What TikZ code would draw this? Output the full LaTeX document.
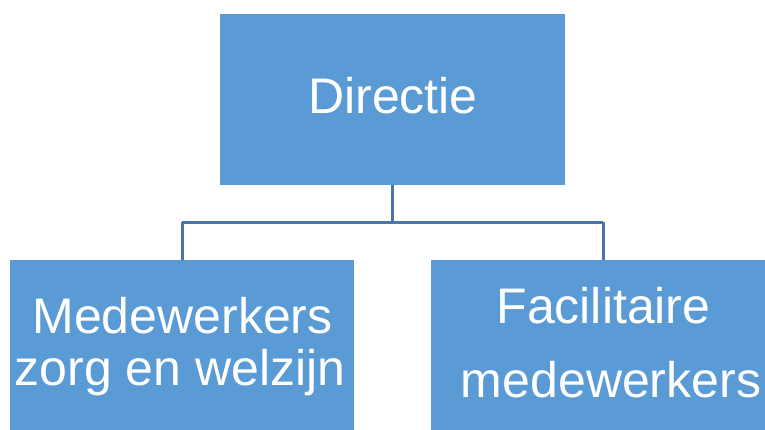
\documentclass[tikz,border=0pt]{standalone}
\usepackage{fontspec}
\setmainfont{Liberation Sans}
\definecolor{boxblue}{HTML}{5B9BD5}
\definecolor{lineblue}{HTML}{4677AA}
\begin{document}
\begin{tikzpicture}[x=1pt,y=-1pt,
  orgbox/.style={fill=boxblue, draw=none, inner sep=0pt, minimum width=#1},
  lbl/.style={text=white, font=\fontsize{50}{56}\selectfont, inner sep=0pt, anchor=base},
  conn/.style={draw=lineblue, line width=3pt}]
\useasboundingbox (0,0) rectangle (765,429);
\clip (0,0) rectangle (765,429);
\fill[white] (0,0) rectangle (765,429);
\node[orgbox=345pt, minimum height=171pt] (top) at (392.5,99) {};
\node[orgbox=344.5pt, minimum height=175pt] (left) at (182,347.5) {};
\node[orgbox=340pt, minimum height=175pt] (right) at (601,347.5) {};
\coordinate (j) at (392.5,222);
\coordinate (ja) at (182,222);
\coordinate (jb) at (603,222);
\coordinate (eb) at (603,260);
\draw[conn] (top.south) -- (j);
\draw[conn] (ja) -- (jb);
\draw[conn] (ja) -- (left.north);
\draw[conn] (jb) -- (eb);
\node[lbl] (tdir) at (393,113) {Directie};
\node[lbl] (l1) at (182.5,333) {Medewerkers};
\node[lbl] (l2) at (180,385) {zorg en welzijn};
\node[lbl] (r1) at (603.5,323) {Facilitaire};
\node[lbl] (r2) at (611,397) {medewerkers};
\end{tikzpicture}
\end{document}
